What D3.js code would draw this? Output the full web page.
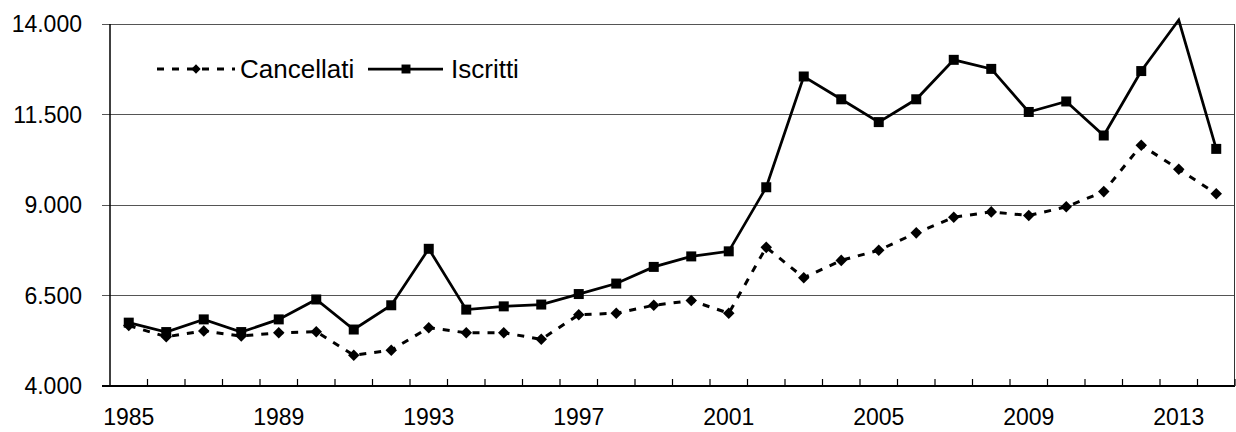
<!DOCTYPE html>
<html>
<head>
<meta charset="utf-8">
<script src="https://cdn.jsdelivr.net/npm/d3@7"></script>
<style>
  html, body { margin: 0; padding: 0; background: #fff; }
  svg { display: block; font-family: "Liberation Sans", Arial, sans-serif; }
</style>
</head>
<body>
<div id="chart"></div>
<script>
// ---- Data ---------------------------------------------------------
const YEARS = d3.range(1985, 2015);

const ISCRITTI = [
  5750, 5490, 5840, 5490, 5840, 6390, 5560, 6230, 7790, 6110,
  6200, 6250, 6540, 6830, 7290, 7580, 7720, 9490, 12550, 11920,
  11290, 11920, 13010, 12760, 11570, 11860, 10920, 12700, 14110, 10550
];

const CANCELLATI = [
  5670, 5360, 5520, 5380, 5470, 5500, 4850, 4990, 5610, 5470,
  5470, 5290, 5970, 6010, 6230, 6360, 6010, 7830, 6990, 7470,
  7750, 8230, 8660, 8810, 8710, 8950, 9370, 10650, 9990, 9310
];

const Y_TICKS = [4000, 6500, 9000, 11500, 14000];
const X_LABELS = [1985, 1989, 1993, 1997, 2001, 2005, 2009, 2013];

// ---- Layout -------------------------------------------------------
const W = 1236, H = 432;
const M = { top: 24, right: 1, bottom: 46, left: 110 };

const svg = d3.select('#chart').append('svg')
  .attr('width', W).attr('height', H);

const x = d3.scaleBand()
  .domain(YEARS)
  .range([M.left, W - M.right])
  .padding(0);

const y = d3.scaleLinear()
  .domain([4000, 14000])
  .range([H - M.bottom, M.top]);

const it = d3.formatLocale({ decimal: ',', thousands: '.', grouping: [3], currency: ['€', ''] });
const fmt = it.format(',d');

const cx = d => x(d) + x.bandwidth() / 2;

// ---- Grid + y axis ------------------------------------------------
svg.append('g')
  .selectAll('line')
  .data(Y_TICKS)
  .join('line')
  .attr('x1', M.left - 8)
  .attr('x2', W - M.right)
  .attr('y1', d => y(d)).attr('y2', d => y(d))
  .attr('stroke', d => d === 4000 ? '#000' : '#555')
  .attr('stroke-width', d => d === 4000 ? 1.5 : 1)
  .attr('shape-rendering', 'crispEdges');

// right border of the plot area
svg.append('line')
  .attr('x1', W - M.right - 0.5).attr('x2', W - M.right - 0.5)
  .attr('y1', y(14000)).attr('y2', y(4000))
  .attr('stroke', '#333').attr('stroke-width', 1);

// y axis line
svg.append('line')
  .attr('x1', M.left).attr('x2', M.left)
  .attr('y1', y(14000)).attr('y2', y(4000))
  .attr('stroke', '#000').attr('stroke-width', 1.5);

svg.append('g')
  .selectAll('text')
  .data(Y_TICKS)
  .join('text')
  .attr('x', 82)
  .attr('y', d => y(d))
  .attr('dy', '0.36em')
  .attr('text-anchor', 'end')
  .attr('font-size', 23)
  .attr('fill', '#000')
  .text(d => fmt(d));

// ---- x axis ticks (between categories, pointing up) ---------------
svg.append('g')
  .selectAll('line')
  .data(YEARS.slice(1).map(d => x(d)).concat([W - M.right]))
  .join('line')
  .attr('x1', d => d).attr('x2', d => d)
  .attr('y1', y(4000)).attr('y2', y(4000) - 7)
  .attr('stroke', '#000').attr('stroke-width', 1.2);

svg.append('g')
  .selectAll('text')
  .data(X_LABELS)
  .join('text')
  .attr('x', d => cx(d))
  .attr('y', 425)
  .attr('text-anchor', 'middle')
  .attr('font-size', 23)
  .attr('fill', '#000')
  .text(d => d);

// ---- Series -------------------------------------------------------
const line = vals => d3.line()
  .x((d, i) => cx(YEARS[i]))
  .y(d => y(d))(vals);

svg.append('path')
  .attr('d', line(CANCELLATI))
  .attr('fill', 'none')
  .attr('stroke', '#000')
  .attr('stroke-width', 3)
  .attr('stroke-dasharray', '7 8');

svg.append('path')
  .attr('d', line(ISCRITTI))
  .attr('fill', 'none')
  .attr('stroke', '#000')
  .attr('stroke-width', 2.75)
  .attr('stroke-linejoin', 'miter');

const diamond = d3.symbol().type(d3.symbolDiamond2).size(85);
const square = d3.symbol().type(d3.symbolSquare).size(100);

svg.append('g')
  .selectAll('path')
  .data(CANCELLATI.map((v, i) => ({ year: YEARS[i], v })))
  .join('path')
  .attr('d', diamond)
  .attr('transform', d => `translate(${cx(d.year)},${y(d.v)})`)
  .attr('fill', '#000');

// markers above the plot area are not drawn
svg.append('g')
  .selectAll('path')
  .data(ISCRITTI.map((v, i) => ({ year: YEARS[i], v })).filter(d => d.v <= 14000))
  .join('path')
  .attr('d', square)
  .attr('transform', d => `translate(${cx(d.year)},${y(d.v)})`)
  .attr('fill', '#000');

// ---- Legend -------------------------------------------------------
const LY = 69;
const leg = svg.append('g');

leg.append('line')
  .attr('x1', 157).attr('x2', 235).attr('y1', LY).attr('y2', LY)
  .attr('stroke', '#000').attr('stroke-width', 3)
  .attr('stroke-dasharray', '7 8');
leg.append('path')
  .attr('d', d3.symbol().type(d3.symbolDiamond2).size(55))
  .attr('transform', `translate(196,${LY})`)
  .attr('fill', '#000');
leg.append('text')
  .attr('x', 240).attr('y', LY).attr('dy', '0.36em')
  .attr('font-size', 26).attr('fill', '#000')
  .text('Cancellati');

leg.append('line')
  .attr('x1', 368).attr('x2', 443).attr('y1', LY).attr('y2', LY)
  .attr('stroke', '#000').attr('stroke-width', 2.75);
leg.append('path')
  .attr('d', d3.symbol().type(d3.symbolSquare).size(80))
  .attr('transform', `translate(406,${LY})`)
  .attr('fill', '#000');
leg.append('text')
  .attr('x', 451).attr('y', LY).attr('dy', '0.36em')
  .attr('font-size', 26).attr('fill', '#000')
  .text('Iscritti');
</script>
</body>
</html>
